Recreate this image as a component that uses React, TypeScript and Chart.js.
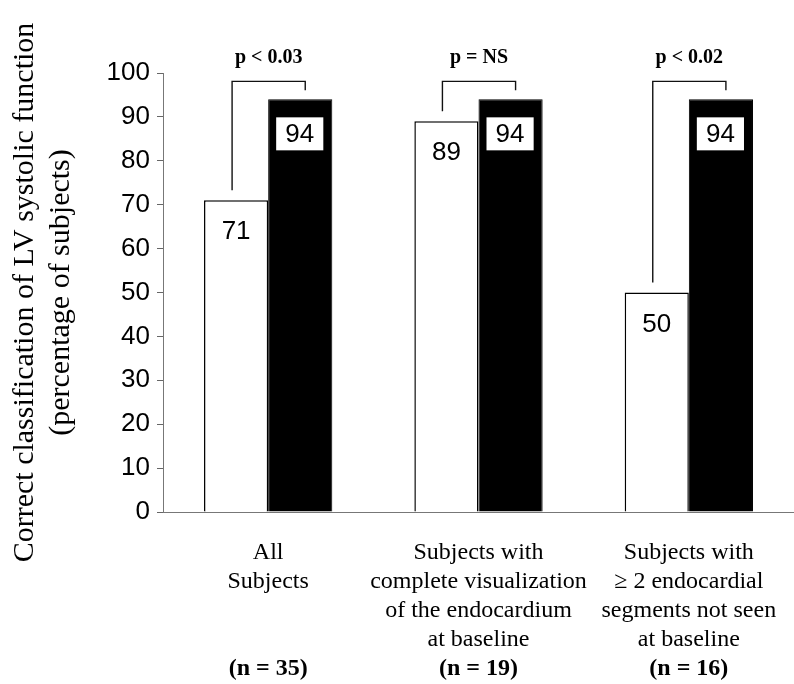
import React, { useEffect, useRef } from "react";
import { Chart, registerables } from "chart.js";

Chart.register(...registerables);

const categories: string[][] = [
  ["All", "Subjects"],
  ["Subjects with", "complete visualization", "of the endocardium", "at baseline"],
  ["Subjects with", "\u2265 2 endocardial", "segments not seen", "at baseline"],
];
const nLabels = ["(n = 35)", "(n = 19)", "(n = 16)"];
const whiteValues = [71, 89, 50];
const blackValues = [94, 94, 94];
const pLabels = ["p < 0.03", "p = NS", "p < 0.02"];
const yTitle = ["Correct classification of LV systolic function", "(percentage of subjects)"];

const SERIF = "'Liberation Serif', 'Times New Roman', serif";
const SANS = "'Liberation Sans', Arial, sans-serif";

const annotate = {
  id: "annotate",
  afterDatasetsDraw(chart: any) {
    const ctx = chart.ctx;
    const m0 = chart.getDatasetMeta(0);
    const m1 = chart.getDatasetMeta(1);
    const xs = chart.scales.x;
    const area = chart.chartArea;
    ctx.save();
    for (let i = 0; i < whiteValues.length; i++) {
      const a = m0.data[i];
      const b = m1.data[i];
      // white bar label
      ctx.fillStyle = "#000";
      ctx.font = `26px ${SANS}`;
      ctx.textAlign = "center";
      ctx.textBaseline = "middle";
      ctx.fillText(String(whiteValues[i]), a.x, a.y + 32);
      // black bar label box
      const bx = b.x - b.width / 2 + 8;
      const bw = b.width - 17;
      const by = b.y + 18;
      const bh = 33;
      ctx.fillStyle = "#fff";
      ctx.fillRect(bx, by, bw, bh);
      ctx.fillStyle = "#000";
      ctx.fillText(String(blackValues[i]), bx + bw / 2, by + bh / 2 + 1);
      // bracket
      const lx = a.x - 4;
      const rx = b.x + 5;
      const top = Math.min(a.y, b.y) - 18;
      ctx.strokeStyle = "#111";
      ctx.lineWidth = 1.4;
      ctx.beginPath();
      ctx.moveTo(lx, a.y - 10);
      ctx.lineTo(lx, top);
      ctx.lineTo(rx, top);
      ctx.lineTo(rx, b.y - 9);
      ctx.stroke();
      ctx.font = `bold 20px ${SERIF}`;
      ctx.fillText(pLabels[i], (lx + rx) / 2, top - 24);
      // n label
      ctx.font = `bold 24px ${SERIF}`;
      ctx.fillText(nLabels[i], xs.getPixelForValue(i), area.bottom + 157);
    }
    ctx.restore();
  },
};

export default function App() {
  const ref = useRef<HTMLCanvasElement | null>(null);
  useEffect(() => {
    document.body.style.margin = "0";
    const canvas = ref.current;
    if (!canvas) return;
    const chart = new Chart(canvas, {
      type: "bar",
      data: {
        labels: categories as any,
        datasets: [
          {
            label: "White",
            data: whiteValues,
            backgroundColor: "#fff",
            borderColor: "#000",
            borderWidth: 1.5,
            categoryPercentage: 0.61,
            barPercentage: 1,
          },
          {
            label: "Black",
            data: blackValues,
            backgroundColor: "#000",
            borderColor: "#000",
            borderWidth: 1,
            categoryPercentage: 0.61,
            barPercentage: 1,
          },
        ],
      },
      options: {
        responsive: false,
        animation: false,
        layout: { padding: { top: 73, left: 0, right: 0, bottom: 0 } },
        plugins: {
          legend: { display: false },
          tooltip: { enabled: false },
        },
        scales: {
          x: {
            grid: { display: false, drawTicks: false },
            border: { display: true, color: "#777", width: 1 },
            ticks: {
              color: "#000",
              font: { family: SERIF, size: 24, lineHeight: "29px" } as any,
              padding: 26.5,
              maxRotation: 0,
              autoSkip: false,
            },
            afterFit(scale: any) {
              scale.height = 172;
              scale.paddingRight = 0;
              scale.paddingLeft = 0;
            },
          },
          y: {
            min: 0,
            max: 100,
            ticks: {
              stepSize: 10,
              color: "#000",
              font: { family: SANS, size: 26 },
              padding: 7,
            },
            grid: {
              display: true,
              drawOnChartArea: false,
              drawTicks: true,
              tickLength: 6,
              color: "#666",
            },
            border: { display: true, color: "#777", width: 1 },
            title: {
              display: true,
              text: yTitle,
              color: "#000",
              font: { family: SERIF, size: 30, lineHeight: 1.2 },
              padding: { top: 7, bottom: 0 },
            },
            afterFit(scale: any) {
              scale.width = 163;
            },
          },
        },
      },
      plugins: [annotate],
    });
    return () => chart.destroy();
  }, []);
  return <canvas ref={ref} width={794} height={684} style={{ display: "block" }} />;
}
